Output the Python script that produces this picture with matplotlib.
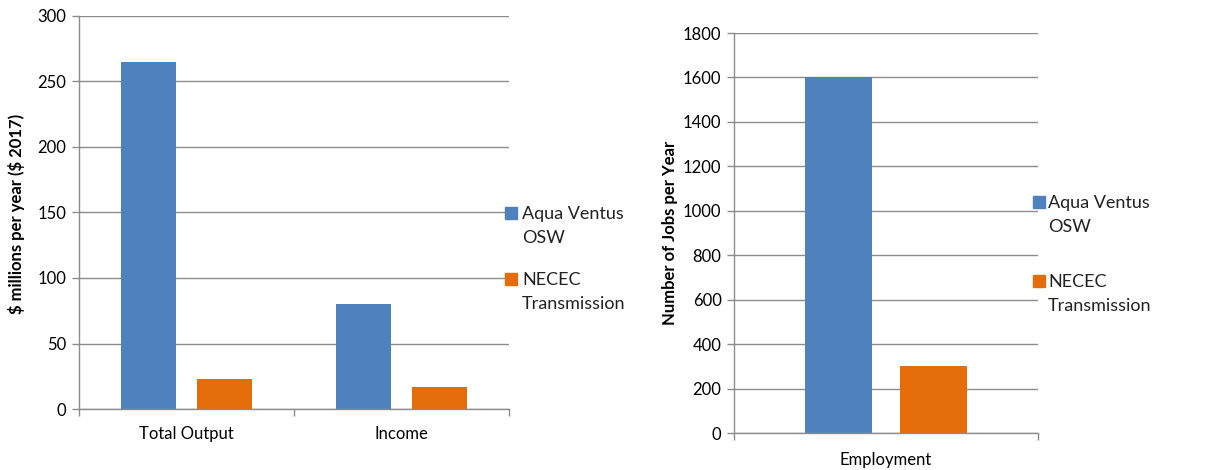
import matplotlib.pyplot as plt
from matplotlib.patches import Rectangle
import numpy as np

plt.rcParams['font.family'] = ['Lato', 'DejaVu Sans']

series = ['Aqua Ventus\nOSW', 'NECEC\nTransmission']
colors = ['#4F81BD', '#E46C0A']

money_categories = ['Total Output', 'Income']
money_aqua = [265, 80]
money_necec = [23, 17]

jobs_categories = ['Employment']
jobs_aqua = [1602]
jobs_necec = [302]

GRID = '#8c8c8c'
W, H = 1221, 470


def style_axes(ax, n_cat, ymax, step):
    ax.set_xlim(0, n_cat)
    ax.set_ylim(0, ymax)
    ax.set_yticks(np.arange(0, ymax + 1, step))
    ax.set_xticks(np.arange(n_cat) + 0.5)
    ax.set_xticks(np.arange(n_cat + 1), minor=True)
    ax.tick_params(axis='x', which='major', length=0, pad=12, labelsize=12)
    ax.tick_params(axis='x', which='minor', length=5, color=GRID, width=1)
    ax.tick_params(axis='y', length=5, color=GRID, width=1, labelsize=12, pad=4)
    ax.grid(axis='y', color=GRID, linewidth=1)
    ax.set_axisbelow(True)
    for s in ['top', 'right']:
        ax.spines[s].set_visible(False)
    for s in ['left', 'bottom']:
        ax.spines[s].set_color(GRID)
        ax.spines[s].set_linewidth(1)


def side_legend(fig, x_box, x_text, baselines):
    # Excel-style legend: square next to the first line of each label
    for i, name in enumerate(series):
        lines = name.split('\n')
        b = baselines[i]
        fig.patches.append(Rectangle((x_box / W, 1 - (b) / H), 12 / W, 12 / H,
                                     transform=fig.transFigure, color=colors[i]))
        for j, line in enumerate(lines):
            fig.text(x_text / W, 1 - (b + 24 * j) / H, line, fontsize=13,
                     ha='left', va='baseline', color='#222222')


fig = plt.figure(figsize=(12.21, 4.70), dpi=100)

# left panel: dollars
ax1 = fig.add_axes([79 / W, 1 - 409 / H, 430 / W, 393 / H])
x = np.arange(len(money_categories)) + 0.5
w = 0.256
ax1.bar(x - 0.177, money_aqua, w, color=colors[0])
ax1.bar(x + 0.177, money_necec, w, color=colors[1])
style_axes(ax1, len(money_categories), 300, 50)
ax1.set_xticklabels(money_categories)
ax1.set_ylabel(r'\$ millions per year (\$ 2017)', fontsize=12, fontweight='bold')
ax1.yaxis.set_label_coords(-0.126, 0.496)
side_legend(fig, 505, 522, [219, 285])

# right panel: jobs
ax2 = fig.add_axes([734 / W, 1 - 433 / H, 304 / W, 400 / H])
x = np.arange(len(jobs_categories)) + 0.5
w = 0.22
ax2.bar(x - 0.155, jobs_aqua, w, color=colors[0])
ax2.bar(x + 0.155, jobs_necec, w, color=colors[1])
style_axes(ax2, len(jobs_categories), 1800, 200)
ax2.set_xticklabels(jobs_categories)
ax2.tick_params(axis='x', which='major', pad=14)
ax2.set_ylabel('Number of Jobs per Year', fontsize=12, fontweight='bold')
ax2.yaxis.set_label_coords(-0.184, 0.5)
side_legend(fig, 1033, 1048, [208, 287])

fig.savefig('out.png', dpi=100)
